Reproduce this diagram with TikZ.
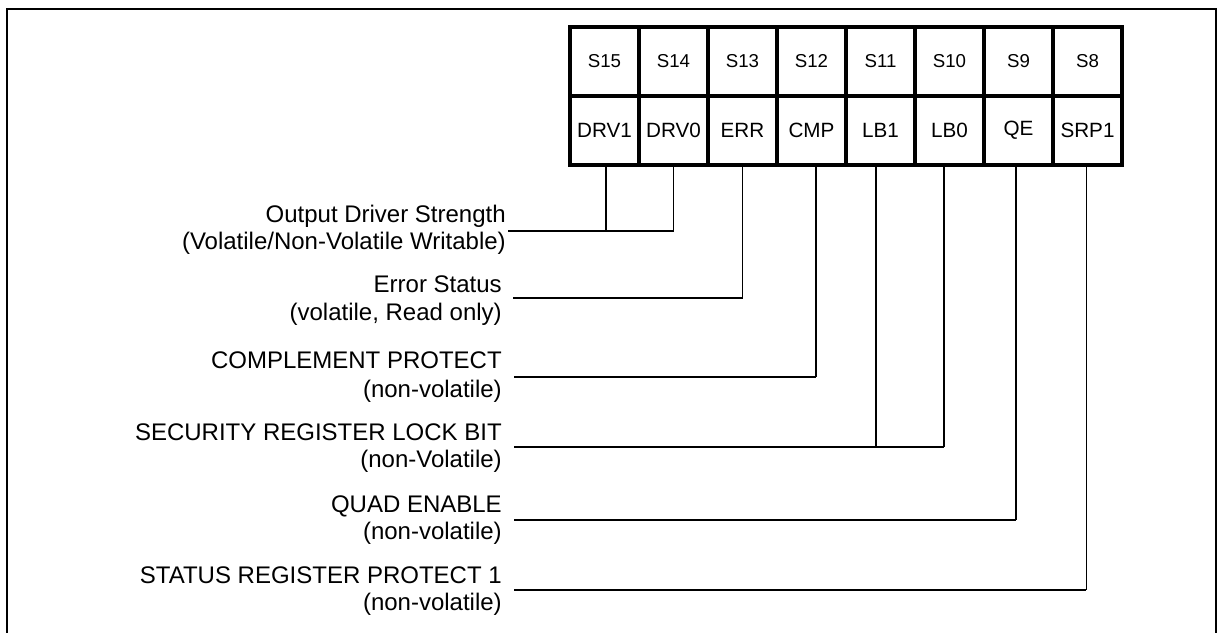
\documentclass[tikz,border=0pt]{standalone}
\usepackage{fontspec}
\setmainfont{Liberation Sans}
\begin{document}
\begin{tikzpicture}[x=0.75pt,y=-0.75pt,
  cell/.style={draw,line width=2.4pt,minimum width=51.75pt,minimum height=51.75pt,inner sep=0pt,anchor=center},
  srow/.style={cell,font=\fontsize{14}{16}\selectfont},
  brow/.style={cell,font=\fontsize{15.5}{18}\selectfont},
  lbl/.style={anchor=base east,inner sep=0pt,font=\fontsize{18}{21}\selectfont},
  hl/.style={line width=1.5pt},
  vl/.style={line width=1pt}]
\useasboundingbox (0,0) rectangle (1221,632);
\draw[line width=1.6pt] (7,640) -- (7,9) -- (1216,9) -- (1216,640);
% register cells
\foreach \n/\s/\b [count=\i from 0] in {15/S15/DRV1,14/S14/DRV0,13/S13/ERR,12/S12/CMP,11/S11/LB1,10/S10/LB0,9/S9/QE,8/S8/SRP1}{
  \node[srow] (s\n) at (604.5+69*\i,61.5) {\s};
  \node[brow] (b\n) at (604.5+69*\i,130.5) {\b};
}
% labels
\node[lbl] (l1a) at (506,222) {Output Driver Strength};
\node[lbl] (l1b) at (506,249) {(Volatile/Non-Volatile Writable)};
\node[lbl] (l2a) at (502,292) {Error Status};
\node[lbl] (l2b) at (502,320) {(volatile, Read only)};
\node[lbl] (l3a) at (502,368) {COMPLEMENT PROTECT};
\node[lbl] (l3b) at (502,397) {(non-volatile)};
\node[lbl] (l4a) at (502,440) {SECURITY REGISTER LOCK BIT};
\node[lbl] (l4b) at (502,467) {(non-Volatile)};
\node[lbl] (l5a) at (502,512) {QUAD ENABLE};
\node[lbl] (l5b) at (502,539) {(non-volatile)};
\node[lbl] (l6a) at (502,583) {STATUS REGISTER PROTECT 1};
\node[lbl] (l6b) at (502,610) {(non-volatile)};
% line start coordinates
\coordinate (c1) at (508,231);
\coordinate (c2) at (513,298);
\coordinate (c3) at (514,377);
\coordinate (c4) at (514,447);
\coordinate (c5) at (514,520);
\coordinate (c6) at (514,590);
% drop points under the bits
\coordinate (d15) at ([xshift=1pt]b15.south);
\coordinate (d14) at (b14.south);
\coordinate (d13) at (b13.south);
\coordinate (d12) at ([xshift=3.4pt]b12.south);
\coordinate (d11) at ([xshift=-3.4pt]b11.south);
\coordinate (d10) at ([xshift=-4.1pt]b10.south);
\coordinate (d9) at ([xshift=-2pt]b9.south);
\coordinate (d8) at ([xshift=-1pt]b8.south);
% connectors
\draw[hl] (c1) -- (c1 -| d14);
\draw[vl] (d15) -- (d15 |- c1);
\draw[vl] (d14) -- (d14 |- c1);
\draw[hl] (c2) -- (c2 -| d13);
\draw[vl] (d13) -- (d13 |- c2);
\draw[hl] (c3) -- (c3 -| d12);
\draw[vl] (d12) -- (d12 |- c3);
\draw[hl] (c4) -- (c4 -| d10);
\draw[vl] (d11) -- (d11 |- c4);
\draw[vl] (d10) -- (d10 |- c4);
\draw[hl] (c5) -- (c5 -| d9);
\draw[vl] (d9) -- (d9 |- c5);
\draw[hl] (c6) -- (c6 -| d8);
\draw[vl] (d8) -- (d8 |- c6);
\end{tikzpicture}
\end{document}
